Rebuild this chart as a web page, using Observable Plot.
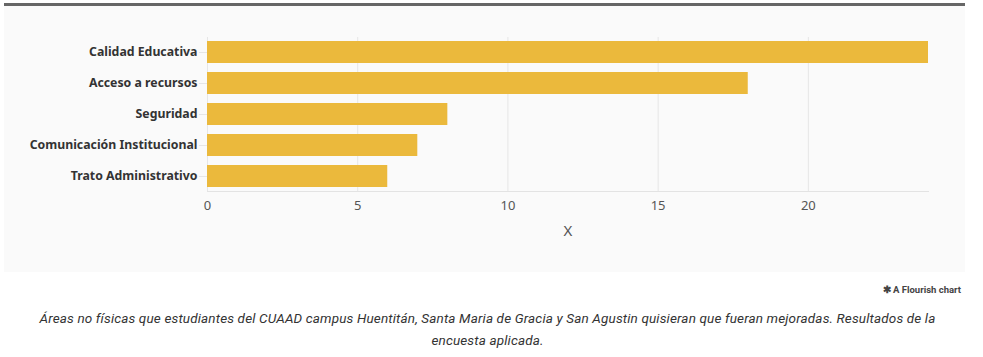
<!DOCTYPE html>
<html>
<head>
<meta charset="utf-8">
<script src="https://cdn.jsdelivr.net/npm/d3@7"></script>
<script src="https://cdn.jsdelivr.net/npm/@observablehq/plot@0.6"></script>
<style>
  html, body { margin: 0; padding: 0; background: #ffffff; }
  body { width: 983px; height: 357px; position: relative; overflow: hidden; font-family: "Noto Sans", sans-serif; }
  #panel { position: absolute; left: 4px; top: 3px; width: 961px; height: 266px; border-top: 3px solid #666666; background: #fafafa; }
  #panel svg { display: block; background: transparent; }
  #credit { position: absolute; right: 22px; top: 284px; font-family: "Roboto", sans-serif; font-weight: bold; font-size: 9.5px; color: #444; }
  #caption { position: absolute; left: 25px; width: 925px; top: 307px; text-align: center; font-family: "Roboto", sans-serif; font-style: italic; font-size: 13.5px; letter-spacing: 0.15px; line-height: 22px; color: #333; }
</style>
</head>
<body>
<div id="panel"></div>
<div id="credit">✱ A Flourish chart</div>
<div id="caption">Áreas no físicas que estudiantes del CUAAD campus Huentitán, Santa Maria de Gracia y San Agustin quisieran que fueran mejoradas. Resultados de la encuesta aplicada.</div>
<script>
const categories = ["Calidad Educativa", "Acceso a recursos", "Seguridad", "Comunicación Institucional", "Trato Administrativo"];
const values = [24, 18, 8, 7, 6];
const xTicks = [0, 5, 10, 15, 20];
const xLabel = "X";

const data = categories.map((c, i) => ({category: c, value: values[i]}));

const chart = Plot.plot({
  width: 961,
  height: 266,
  marginTop: 31,
  marginBottom: 81,
  marginLeft: 203,
  marginRight: 37,
  style: {background: "transparent", overflow: "visible"},
  x: {domain: [0, 24], ticks: xTicks},
  y: {domain: categories, paddingInner: 0.28, paddingOuter: 0.1},
  marks: [
    Plot.gridX(xTicks, {stroke: "#e6e6e6", strokeOpacity: 1}),
    Plot.barX(data, {x: "value", y: "category", fill: "#ebb93c"}),
    Plot.frame({anchor: "bottom", stroke: "#e3e3e3"}),
    Plot.axisX({ticks: xTicks, tickSize: 0, tickPadding: 9, fontSize: 13, fill: "#555", fontFamily: "Noto Sans", label: null}),
    Plot.axisX({ticks: [], label: xLabel, labelAnchor: "center", labelOffset: 44, labelArrow: false, fontSize: 15, fill: "#555", fontFamily: "Noto Sans"}),
    Plot.axisY({tickSize: 8, tickPadding: 2, stroke: "#e6e6e6", fontSize: 12.3, fontWeight: "bold", fill: "#333", fontFamily: "Noto Sans", label: null})
  ]
});
document.getElementById("panel").appendChild(chart);
</script>
</body>
</html>
